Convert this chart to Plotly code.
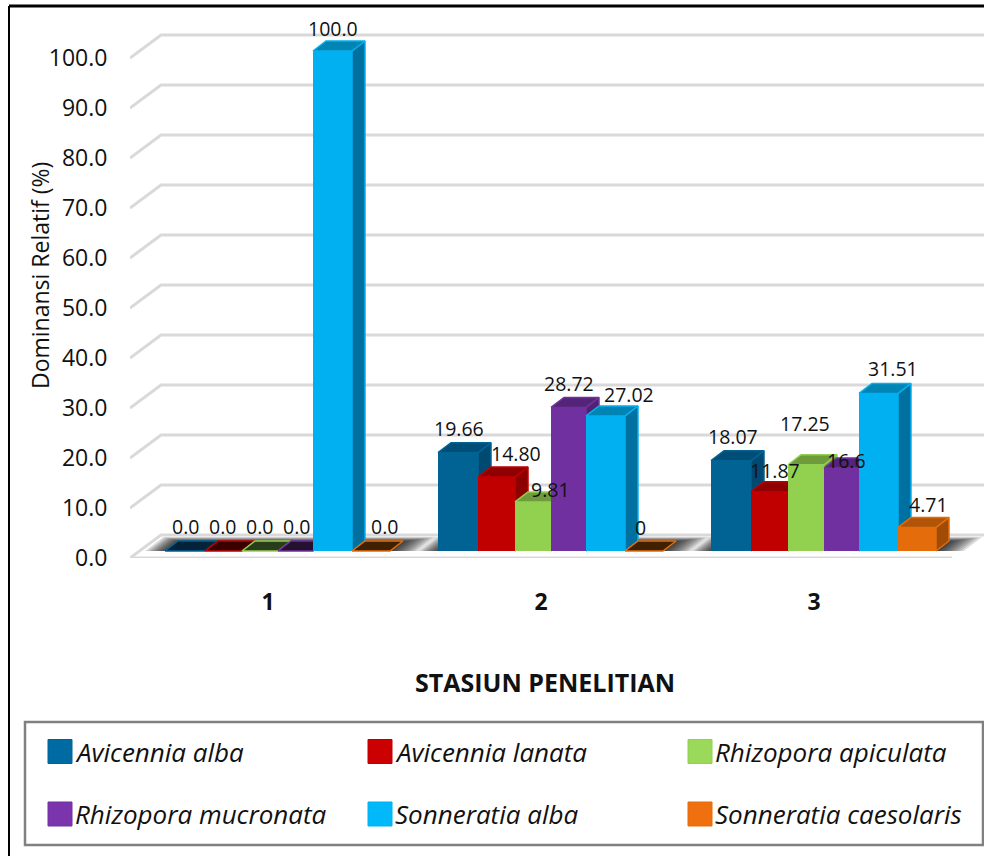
import plotly.graph_objects as go

stations = [1, 2, 3]
species = ["Avicennia alba", "Avicennia lanata", "Rhizopora apiculata",
           "Rhizopora mucronata", "Sonneratia alba", "Sonneratia caesolaris"]
avicennia_alba = [0.0, 19.66, 18.07]
avicennia_lanata = [0.0, 14.80, 11.87]
rhizopora_apiculata = [0.0, 9.81, 17.25]
rhizopora_mucronata = [0.0, 28.72, 16.6]
sonneratia_alba = [100.0, 27.02, 31.51]
sonneratia_caesolaris = [0.0, 0.0, 4.71]
series_values = [avicennia_alba, avicennia_lanata, rhizopora_apiculata,
                 rhizopora_mucronata, sonneratia_alba, sonneratia_caesolaris]
value_labels = [["0.0", "19.66", "18.07"], ["0.0", "14.80", "11.87"], ["0.0", "9.81", "17.25"],
                ["0.0", "28.72", "16.6"], ["100.0", "27.02", "31.51"], ["0.0", "0", "4.71"]]
y_ticks = [0, 10, 20, 30, 40, 50, 60, 70, 80, 90, 100]
y_ticklabels = ["%.1f" % t for t in y_ticks]

# style
FRONT = ["#006394", "#c00000", "#92d050", "#7030a0", "#00b0f0", "#e46c0a"]
TOP = ["#004d78", "#900000", "#6e9c3c", "#542478", "#0084b4", "#b05408"]
SIDE = ["#004a72", "#8c0000", "#6c9a3a", "#50236f", "#0070a0", "#a04c06"]
DARK = ["#02233a", "#3a0000", "#2a3d1a", "#24102f", "#04303f", "#402000"]
SWATCH = ["#006ba3", "#cc0000", "#9bd95a", "#7a35ad", "#00b8fa", "#f07010"]
FONT = "Open Sans"
GRID = "#d9d9d9"
INK = "#111111"

W, H = 984, 856
L, R, T, B = 130, 984, 0, 558
PX_X = 273.0   # pixels per station
PX_Y = 5.0     # pixels per percent
X0_PX = 268.0  # pixel of station 1 on the front plane


def xu(px):
    return (px - X0_PX) / PX_X + 1


def dxu(px):
    return px / PX_X


def dyu(px):
    return px / PX_Y


def xp(px):
    return (px - L) / (R - L)


def yp(px):
    return (B - px) / (B - T)


WIDTHS = [40, 37, 36, 35, 39, 38]
GROUP_LEFT = 165 - 268
BASE = dyu(7)
DEPTH_X, DEPTH_Y = dxu(13), dyu(10)
WALL_X, WALL_Y = dxu(31), dyu(23)

fig = go.Figure()

# wall and side grid lines, from the axis ticks
gx, gy = [], []
for t in y_ticks:
    gx += [xu(130), xu(130) + WALL_X, xu(R), None]
    gy += [t, t + WALL_Y, t + WALL_Y, None]
fig.add_trace(go.Scatter(x=gx, y=gy, mode="lines", line=dict(color=GRID, width=3),
                         cliponaxis=False, showlegend=False, hoverinfo="skip", zorder=-5))
# floor front edge
fig.add_trace(go.Scatter(x=[xu(130), xu(952)], y=[0, 0], mode="lines", line=dict(color=GRID, width=3),
                         cliponaxis=False, showlegend=False, hoverinfo="skip", zorder=-5))

# soft floor shadow behind each group
span = dxu(sum(WIDTHS))
LAYERS = 12
for st in stations:
    left = st + dxu(GROUP_LEFT)
    for k in range(LAYERS):
        a = left - dxu(20) + dxu(k * 2.4)
        b = left + span + dxu(28) - dxu(k * 3)
        h = DEPTH_Y * (1.4 - 0.05 * k)
        skew = h / DEPTH_Y * DEPTH_X
        sx = [a, b, b + skew, a + skew, a]
        sy = [BASE, BASE, BASE + h, BASE + h, BASE]
        fig.add_trace(go.Scatter(x=sx, y=sy, mode="none", fill="toself",
                                 fillcolor="rgba(0,0,0,0.13)", showlegend=False,
                                 hoverinfo="skip", cliponaxis=False, zorder=-3))

# bars
for s, vals in enumerate(series_values):
    off = dxu(sum(WIDTHS[:s]))
    w = dxu(WIDTHS[s])
    lefts = [st + dxu(GROUP_LEFT) + off for st in stations]
    fig.add_trace(go.Bar(x=[l + w / 2 for l in lefts], y=vals, base=BASE, width=w, name=species[s],
                         marker=dict(color=FRONT[s], line=dict(width=0)), showlegend=False,
                         zorder=10 * s + 3))
    sidex, sidey, topx, topy, zx, zy = [], [], [], [], [], []
    for l, v in zip(lefts, vals):
        y1 = v + BASE
        if v > 0:
            sidex += [l + w, l + w + DEPTH_X, l + w + DEPTH_X, l + w, l + w, None]
            sidey += [BASE, BASE + DEPTH_Y, y1 + DEPTH_Y, y1, BASE, None]
            topx += [l, l + w, l + w + DEPTH_X, l + DEPTH_X, l, None]
            topy += [y1, y1, y1 + DEPTH_Y, y1 + DEPTH_Y, y1, None]
        else:
            zx += [l, l + w, l + w + DEPTH_X, l + DEPTH_X, l, None]
            zy += [y1, y1, y1 + DEPTH_Y, y1 + DEPTH_Y, y1, None]
    for px_, py_, fill_ in [(sidex, sidey, SIDE[s]), (topx, topy, TOP[s]), (zx, zy, DARK[s])]:
        if px_:
            fig.add_trace(go.Scatter(x=px_, y=py_, mode="lines", fill="toself", fillcolor=fill_,
                                     line=dict(color=FRONT[s], width=1.5), showlegend=False,
                                     hoverinfo="skip", cliponaxis=False, zorder=10 * s + 1))

# value labels, anchored on the bars
NUDGE = {(0, 0): (-6, 3), (1, 0): (-7, 3), (2, 0): (-7, 3), (3, 0): (-5, 3), (4, 0): (-6, 1), (5, 0): (7, 3),
         (0, 1): (-5, 2), (1, 1): (13, 2), (2, 1): (11, -10), (3, 1): (-6, 2), (4, 1): (17, -1), (5, 1): (-10, 2),
         (0, 2): (-4, 2), (1, 2): (-1, -1), (2, 2): (-7, 19), (3, 2): (-1, -14), (4, 2): (8, 3), (5, 2): (5, 1)}
annotations = []
for s, vals in enumerate(series_values):
    off = dxu(sum(WIDTHS[:s]))
    w = dxu(WIDTHS[s])
    for g, st in enumerate(stations):
        nx, ny = NUDGE[(s, g)]
        annotations.append(dict(
            x=st + dxu(GROUP_LEFT) + off + w / 2, y=vals[g] + BASE + DEPTH_Y, xref="x", yref="y",
            text=value_labels[s][g], showarrow=False, xanchor="center", yanchor="middle",
            xshift=6 + nx, yshift=12 + ny, font=dict(family=FONT, size=19.5, color=INK)))

# axis titles
annotations.append(dict(x=xp(40), y=yp(276), xref="paper", yref="paper", text="Dominansi Relatif (%)",
                        textangle=-90, showarrow=False, xanchor="center", yanchor="middle",
                        font=dict(family=FONT, size=23, color=INK)))
annotations.append(dict(x=xp(545), y=yp(682), xref="paper", yref="paper", text="<b>STASIUN PENELITIAN</b>",
                        showarrow=False, xanchor="center", yanchor="middle",
                        font=dict(family=FONT, size=25, color=INK)))

# legend drawn in the picture's own box
shapes = [
    dict(type="line", xref="paper", yref="paper", x0=xp(9), x1=xp(W), y0=yp(6), y1=yp(6),
         line=dict(color="#000000", width=3)),
    dict(type="line", xref="paper", yref="paper", x0=xp(9), x1=xp(9), y0=yp(6), y1=yp(H),
         line=dict(color="#000000", width=2)),
    dict(type="rect", xref="paper", yref="paper", x0=xp(25), x1=xp(983), y0=yp(722), y1=yp(845),
         line=dict(color="#808080", width=2.5)),
]
COLS = [48, 368, 688]
ROWS = [751.5, 814]
for s, name in enumerate(species):
    cx, cy = COLS[s % 3], ROWS[s // 3]
    shapes.append(dict(type="rect", xref="paper", yref="paper", x0=xp(cx), x1=xp(cx + 24),
                       y0=yp(cy - 12), y1=yp(cy + 12), fillcolor=SWATCH[s],
                       line=dict(color=FRONT[s], width=1)))
    annotations.append(dict(x=xp(cx + 25), y=yp(cy), xref="paper", yref="paper", text="<i>%s</i>" % name,
                            showarrow=False, xanchor="left", yanchor="middle",
                            font=dict(family=FONT, size=26, color=INK)))

fig.update_layout(
    width=W, height=H, margin=dict(l=L, r=W - R, t=T, b=H - B, pad=0, autoexpand=False),
    paper_bgcolor="white", plot_bgcolor="rgba(0,0,0,0)", barmode="overlay", showlegend=False,
    font=dict(family=FONT, color=INK), annotations=annotations, shapes=shapes,
    xaxis=dict(range=[xu(L), xu(R)], tickmode="array", tickvals=stations, ticktext=[str(s) for s in stations],
               showgrid=False, zeroline=False, showline=False, ticks="outside", ticklen=23,
               tickcolor="rgba(0,0,0,0)", tickfont=dict(family=FONT, size=23, color=INK, weight="bold")),
    yaxis=dict(range=[0, (B - T) / PX_Y], tickmode="array", tickvals=y_ticks, ticktext=y_ticklabels,
               showgrid=False, zeroline=False, showline=False, ticks="outside", ticklen=17,
               tickcolor="rgba(0,0,0,0)", tickfont=dict(family=FONT, size=23, color=INK)),
)

fig.write_html("out.html", config=dict(displayModeBar=False),
               post_script="document.body.style.margin='0';document.body.style.overflow='hidden';")
